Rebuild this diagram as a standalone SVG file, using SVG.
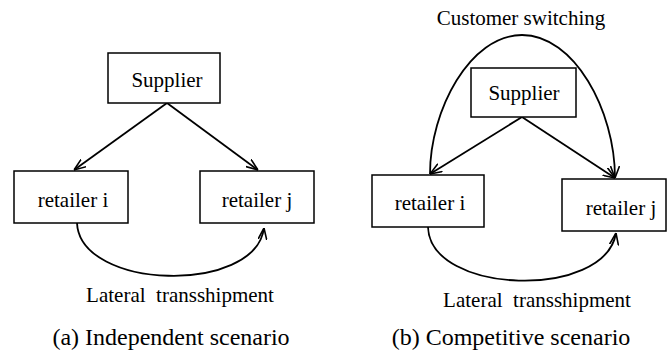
<svg xmlns="http://www.w3.org/2000/svg" width="667" height="357" viewBox="0 0 667 357">
<style>
.box{fill:#fff;stroke:#000;stroke-width:1.5}
text{font-family:'Times New Roman','Liberation Serif',Times,serif;fill:#000;text-anchor:middle}
.t{font-size:21px}
.cap{font-size:24px}
.ln{fill:none;stroke:#000;stroke-width:1.8;marker-end:url(#arr)}
</style>
<defs>
<marker id="arr" viewBox="0 0 12 10" refX="12" refY="5" markerWidth="12" markerHeight="10" markerUnits="userSpaceOnUse" orient="auto">
<path d="M0,0.5 L12,5 L0,9.5" fill="none" stroke="#000" stroke-width="1.6"/>
</marker>
</defs>
<rect width="667" height="357" fill="#fff"/>
<g id="connectors">
<path class="ln" d="M167,103 L74,170"/>
<path class="ln" d="M167,103 L258,170"/>
<path class="ln" d="M77,223 C80,290 255,295 264,228"/>
<path class="ln" d="M522,117 L430,174"/>
<path class="ln" d="M522,117 L615,178"/>
<path class="ln" d="M430,174 C430,110 470,35 522,35 C574,35 615,110 615,178"/>
<path class="ln" d="M428,227 C430,295 605,300 616,233"/>
</g>
<g id="a-supplier"><rect class="box" x="108" y="53" width="112" height="50"/><text class="t" x="167" y="87" font-family="Liberation Serif">Supplier</text></g>
<g id="a-retailer-i"><rect class="box" x="14" y="171" width="114" height="52"/><text class="t" x="73" y="207">retailer i</text></g>
<g id="a-retailer-j"><rect class="box" x="200" y="171" width="114" height="52"/><text class="t" x="257" y="207">retailer j</text></g>
<text class="t" x="180" y="302" xml:space="preserve">Lateral  transshipment</text>
<text class="cap" x="171" y="345">(a) Independent scenario</text>
<g id="b-supplier"><rect class="box" x="471" y="68" width="105" height="49"/><text class="t" x="524" y="100">Supplier</text></g>
<g id="b-retailer-i"><rect class="box" x="372" y="175" width="112" height="52"/><text class="t" x="430" y="210">retailer i</text></g>
<g id="b-retailer-j"><rect class="box" x="562" y="179" width="104" height="52"/><text class="t" x="621" y="215">retailer j</text></g>
<text class="t" x="521" y="25">Customer switching</text>
<text class="t" x="537" y="307" xml:space="preserve">Lateral  transshipment</text>
<text class="cap" x="511" y="345">(b) Competitive scenario</text>
</svg>
